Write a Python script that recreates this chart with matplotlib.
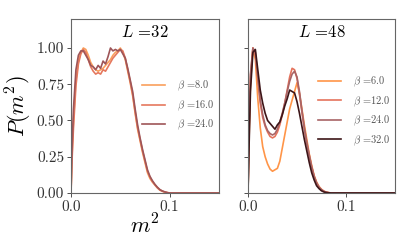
import numpy as np
import matplotlib
matplotlib.use("Agg")
import matplotlib.pyplot as plt

plt.rcParams['font.family'] = 'serif'
plt.rcParams['font.serif'] = ['cmr10', 'DejaVu Serif']
plt.rcParams['mathtext.fontset'] = 'cm'
plt.rcParams['axes.formatter.use_mathtext'] = True

x = [0, 0.001, 0.0025, 0.005, 0.0075, 0.01, 0.0125, 0.015, 0.0175, 0.02,
     0.0225, 0.025, 0.0275, 0.03, 0.0325, 0.035, 0.0375, 0.04, 0.0425, 0.045,
     0.0475, 0.05, 0.0525, 0.055, 0.0575, 0.06, 0.0625, 0.065, 0.0675, 0.07,
     0.0725, 0.075, 0.0775, 0.08, 0.0825, 0.085, 0.0875, 0.09, 0.0925, 0.095,
     0.0975, 0.1, 0.15]

# L = 32
L32_b8 = [0, 0.25, 0.50, 0.78, 0.91, 0.97, 1.00, 0.99, 0.95, 0.90,
          0.87, 0.85, 0.84, 0.85, 0.86, 0.88, 0.90, 0.92, 0.95, 0.97,
          0.98, 1.00, 0.97, 0.92, 0.84, 0.76, 0.67, 0.55, 0.44, 0.36,
          0.28, 0.21, 0.14, 0.10, 0.075, 0.055, 0.035, 0.02, 0.012, 0.006,
          0.002, 0.0, 0.0]
L32_b16 = [0, 0.22, 0.45, 0.74, 0.89, 0.96, 0.99, 0.97, 0.92, 0.87,
           0.84, 0.82, 0.83, 0.82, 0.85, 0.84, 0.87, 0.90, 0.93, 0.95,
           0.97, 0.99, 0.98, 0.93, 0.85, 0.77, 0.68, 0.56, 0.45, 0.37,
           0.29, 0.22, 0.15, 0.11, 0.08, 0.058, 0.038, 0.022, 0.013, 0.007,
           0.003, 0.0, 0.0]
L32_b24 = [0, 0.30, 0.58, 0.85, 0.95, 0.98, 0.98, 0.95, 0.92, 0.88,
           0.87, 0.85, 0.88, 0.86, 0.91, 0.89, 0.94, 1.00, 0.98, 0.99,
           0.98, 0.99, 0.96, 0.93, 0.86, 0.78, 0.70, 0.58, 0.47, 0.38,
           0.30, 0.23, 0.16, 0.115, 0.085, 0.06, 0.04, 0.024, 0.014, 0.008,
           0.003, 0.0, 0.0]

# L = 48
L48_b6 = [0, 0.35, 0.75, 1.00, 0.92, 0.65, 0.45, 0.32, 0.25, 0.20,
          0.165, 0.15, 0.16, 0.17, 0.22, 0.31, 0.40, 0.49, 0.58, 0.64,
          0.70, 0.76, 0.69, 0.58, 0.47, 0.37, 0.27, 0.19, 0.12, 0.075,
          0.045, 0.025, 0.012, 0.006, 0.002, 0, 0, 0, 0, 0,
          0, 0, 0]
L48_b12 = [0, 0.40, 0.80, 1.00, 0.95, 0.78, 0.62, 0.52, 0.46, 0.42,
           0.39, 0.38, 0.39, 0.42, 0.47, 0.54, 0.62, 0.71, 0.80, 0.86,
           0.85, 0.79, 0.68, 0.56, 0.44, 0.34, 0.26, 0.18, 0.115, 0.07,
           0.04, 0.024, 0.012, 0.005, 0.002, 0, 0, 0, 0, 0,
           0, 0, 0]
L48_b24 = [0, 0.42, 0.82, 1.00, 0.97, 0.80, 0.64, 0.54, 0.47, 0.43,
           0.41, 0.40, 0.41, 0.44, 0.49, 0.55, 0.62, 0.70, 0.77, 0.82,
           0.84, 0.80, 0.70, 0.57, 0.45, 0.35, 0.26, 0.18, 0.115, 0.07,
           0.04, 0.022, 0.011, 0.005, 0.002, 0, 0, 0, 0, 0,
           0, 0, 0]
L48_b32 = [0, 0.30, 0.70, 0.97, 0.99, 0.85, 0.71, 0.62, 0.55, 0.50,
           0.48, 0.46, 0.44, 0.47, 0.49, 0.54, 0.60, 0.65, 0.71, 0.70,
           0.69, 0.63, 0.55, 0.46, 0.37, 0.29, 0.21, 0.14, 0.09, 0.05,
           0.03, 0.015, 0.007, 0.003, 0.001, 0, 0, 0, 0, 0,
           0, 0, 0]

left_series = [(L32_b8, r'$\beta$ =8.0', '#fa9f5c'),
               (L32_b16, r'$\beta$ =16.0', '#e5785e'),
               (L32_b24, r'$\beta$ =24.0', '#9e5558')]
right_series = [(L48_b6, r'$\beta$ =6.0', '#ff9548'),
                (L48_b12, r'$\beta$ =12.0', '#e5735c'),
                (L48_b24, r'$\beta$ =24.0', '#a86466'),
                (L48_b32, r'$\beta$ =32.0', '#3d1518')]

fig = plt.figure(figsize=(4.15, 2.49), dpi=100)
ax1 = fig.add_axes([71/415, 56/249, 148/415, 174/249])
ax2 = fig.add_axes([248/415, 56/249, 147/415, 174/249])

for ax, series, title, anchor in [(ax1, left_series, r'$L$ =32', (0.477, 0.655)),
                                  (ax2, right_series, r'$L$ =48', (0.475, 0.68))]:
    for y, lab, c in series:
        ax.plot(x, y, color=c, lw=1.2, label=lab)
    ax.set_xlim(0, 0.15)
    ax.set_ylim(0, 1.2)
    ax.set_xticks([0.0, 0.1])
    ax.set_xticklabels(['0.0', '0.1'])
    ax.set_yticks([0, 0.25, 0.5, 0.75, 1.0])
    ax.tick_params(labelsize=11, length=3, width=0.6, colors='#333333', pad=2)
    for s in ax.spines.values():
        s.set_color('#666666')
        s.set_linewidth(0.8)
    ax.text(0.5, 0.97, title, transform=ax.transAxes, ha='center', va='top',
            fontsize=12)
    leg = ax.legend(loc='upper left', bbox_to_anchor=anchor, frameon=False,
                    fontsize=7.5, handlelength=2.2, handletextpad=1.2,
                    labelspacing=0.5, borderpad=0, borderaxespad=0)
    for t in leg.get_texts():
        t.set_color('#555555')

ax1.set_yticklabels(['0.00', '0.25', '0.50', '0.75', '1.00'])
ax2.set_yticklabels([])
ax1.set_ylabel(r'$P(m^2)$', fontsize=16, labelpad=2)
ax1.set_xlabel(r'$m^2$', fontsize=16, labelpad=0)

fig.savefig('out.png', dpi=100)
